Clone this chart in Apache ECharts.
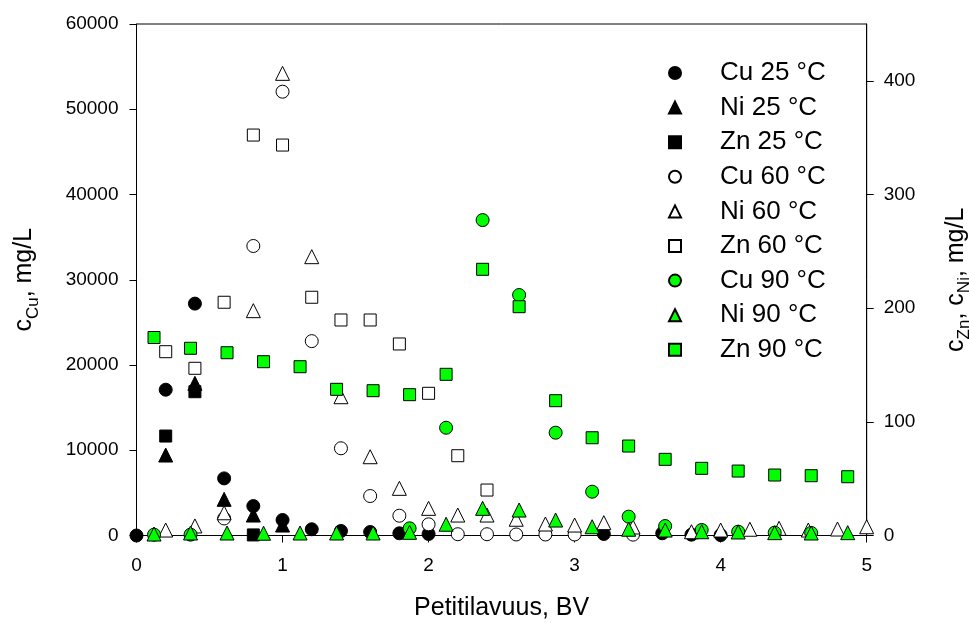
<!DOCTYPE html>
<html>
<head>
<meta charset="utf-8">
<script src="https://cdn.jsdelivr.net/npm/echarts@6/dist/echarts.min.js"></script>
<style>
html, body { margin: 0; padding: 0; background: #fff; }
#chart { width: 969px; height: 623px; }
</style>
</head>
<body>
<div id="chart"></div>
<script>
// Petitilavuus (BV) ja pitoisuudet, luettu kuvasta
// 25 °C
var xCu25 = [0, 0.2, 0.4, 0.6, 0.8, 1.0, 1.2, 1.4, 1.6, 1.8, 2.0, 3.2, 3.6, 3.8, 4.0];
var cu25 = [0, 17100, 27200, 6700, 3450, 1820, 730, 530, 410, 260, 180, 180, 260, 100, 50];
var xNi25 = [0.2, 0.4, 0.6, 0.8, 1.0];
var ni25 = [70.8, 133.9, 31.8, 18, 9.2];
var xZn25 = [0.2, 0.4, 0.8];
var zn25 = [87.5, 126.5, 0.5];
// 60 °C
var xCu60 = [0.6, 0.8, 1.0, 1.2, 1.4, 1.6, 1.8, 2.0, 2.2, 2.4, 2.6, 2.8, 3.0, 3.4];
var cu60 = [2000, 33960, 52060, 22800, 10230, 4630, 2320, 1310, 150, 150, 120, 120, 120, 100];
var xNi60 = [0.2, 0.4, 0.6, 0.8, 1.0, 1.2, 1.4, 1.6, 1.8, 2.0, 2.2, 2.4, 2.6, 2.8, 3.0, 3.2, 3.4, 3.8, 4.0, 4.2, 4.4, 4.6, 4.8, 5.0];
var ni60 = [4.8, 8.4, 20, 197.8, 406.6, 245.3, 122.1, 69.3, 41.5, 23.9, 18, 18, 14.3, 10.1, 9.2, 11.3, 7.5, 3.3, 4.8, 5.5, 6.3, 4.8, 5.7, 7.7];
var xZn60 = [0.2, 0.4, 0.6, 0.8, 1.0, 1.2, 1.4, 1.6, 1.8, 2.0, 2.2, 2.4];
var zn60 = [161.7, 147.1, 205.2, 352.3, 343.5, 209.6, 189.6, 189.6, 168.5, 125.1, 70.2, 40];
// 90 °C
var xCu90 = [0.12, 0.37, 1.87, 2.12, 2.37, 2.62, 2.87, 3.12, 3.37, 3.62, 3.87, 4.12, 4.37, 4.62];
var cu90 = [100, 100, 840, 12640, 37000, 28210, 12060, 5140, 2210, 1110, 650, 450, 330, 300];
var x90 = [0.12, 0.37, 0.62, 0.87, 1.12, 1.37, 1.62, 1.87, 2.12, 2.37, 2.62, 2.87, 3.12, 3.37, 3.62, 3.87, 4.12, 4.37, 4.62, 4.87];
var ni90 = [1.3, 2.2, 2.2, 2, 2.2, 2.2, 2.2, 2.8, 9.9, 23.9, 22.4, 13.6, 7.7, 5.5, 4.8, 3.3, 3.1, 2.5, 2.2, 2.5];
var zn90 = [174.2, 164.7, 160.8, 152.9, 148.5, 128.6, 127.4, 123.9, 141.8, 234.2, 201.3, 118.6, 86, 78.7, 67, 59.1, 56.7, 53.2, 52.6, 51.7];

var FONT = '"Liberation Sans", Arial, sans-serif';
var chart = echarts.init(document.getElementById('chart'));

function pts(xs, ys) {
    return xs.map(function (x, i) { return [x, ys[i]]; });
}

function sarja(nimi, xs, ys, symbol, fill, axisIdx) {
    var size = symbol === 'circle' ? 13 : (symbol === 'rect' ? 12 : 14);
    return {
        name: nimi,
        type: 'scatter',
        yAxisIndex: axisIdx,
        symbol: symbol,
        symbolSize: size,
        itemStyle: { color: fill, borderColor: '#000', borderWidth: 1, opacity: 1 },
        emphasis: { disabled: true },
        data: pts(xs, ys)
    };
}

var series = [
    sarja('Cu 25 °C', xCu25, cu25, 'circle', '#000', 0),
    sarja('Ni 25 °C', xNi25, ni25, 'triangle', '#000', 1),
    sarja('Zn 25 °C', xZn25, zn25, 'rect', '#000', 1),
    sarja('Cu 60 °C', xCu60, cu60, 'circle', '#fff', 0),
    sarja('Ni 60 °C', xNi60, ni60, 'triangle', '#fff', 1),
    sarja('Zn 60 °C', xZn60, zn60, 'rect', '#fff', 1),
    sarja('Cu 90 °C', xCu90, cu90, 'circle', '#00ff00', 0),
    sarja('Ni 90 °C', x90, ni90, 'triangle', '#00ff00', 1),
    sarja('Zn 90 °C', x90, zn90, 'rect', '#00ff00', 1)
];

var tickLabel = { color: '#000', fontSize: 19, fontFamily: FONT };
var subRich = {
    a: { fontSize: 25, fontFamily: FONT, color: '#000', lineHeight: 34, verticalAlign: 'middle' },
    b: { fontSize: 17, fontFamily: FONT, color: '#000', lineHeight: 34, verticalAlign: 'bottom' }
};

chart.setOption({
    animation: false,
    backgroundColor: '#fff',
    grid: {
        left: 136.5, right: 102.3, top: 24, bottom: 87.5,
        outerBoundsMode: 'none', containLabel: false,
        show: true, borderColor: '#000', borderWidth: 1
    },
    legend: {
        orient: 'vertical',
        left: 663, top: 55,
        itemWidth: 12, itemHeight: 12, itemGap: 8.6,
        selectedMode: false,
        textStyle: { fontSize: 26, fontFamily: FONT, color: '#000', lineHeight: 26, padding: [0, 0, 0, 34] },
        data: series.map(function (s) { return s.name; })
    },
    xAxis: {
        type: 'value', min: 0, max: 5, interval: 1,
        name: 'Petitilavuus, BV', nameLocation: 'middle', nameGap: 60,
        nameTextStyle: { fontSize: 25, fontFamily: FONT, color: '#000' },
        axisLine: { lineStyle: { color: '#000', width: 1 } },
        axisTick: { inside: false, length: 7, lineStyle: { color: '#000' } },
        axisLabel: Object.assign({ margin: 21 }, tickLabel),
        splitLine: { show: false }
    },
    yAxis: [{
        type: 'value', min: 0, max: 60000, interval: 10000,
        name: '{a|c}{b|Cu}{a|, mg/L}', nameLocation: 'middle', nameGap: 95,
        nameTextStyle: { rich: subRich },
        axisLine: { show: true, lineStyle: { color: '#000', width: 1 } },
        axisTick: { show: true, length: 7, lineStyle: { color: '#000' } },
        axisLabel: Object.assign({ margin: 18, formatter: function (v) { return String(v); } }, tickLabel),
        splitLine: { show: false }
    }, {
        type: 'value', min: 0, max: 450, interval: 100, position: 'right',
        name: '{a|c}{b|Zn}{a|, c}{b|Ni}{a|, mg/L}', nameLocation: 'middle', nameGap: 72,
        nameTextStyle: { rich: subRich },
        axisLine: { show: true, lineStyle: { color: '#000', width: 1 } },
        axisTick: { show: true, length: 7, customValues: [0, 100, 200, 300, 400], lineStyle: { color: '#000' } },
        axisLabel: Object.assign({ margin: 17, customValues: [0, 100, 200, 300, 400] }, tickLabel),
        splitLine: { show: false }
    }],
    series: series
});
</script>
</body>
</html>
